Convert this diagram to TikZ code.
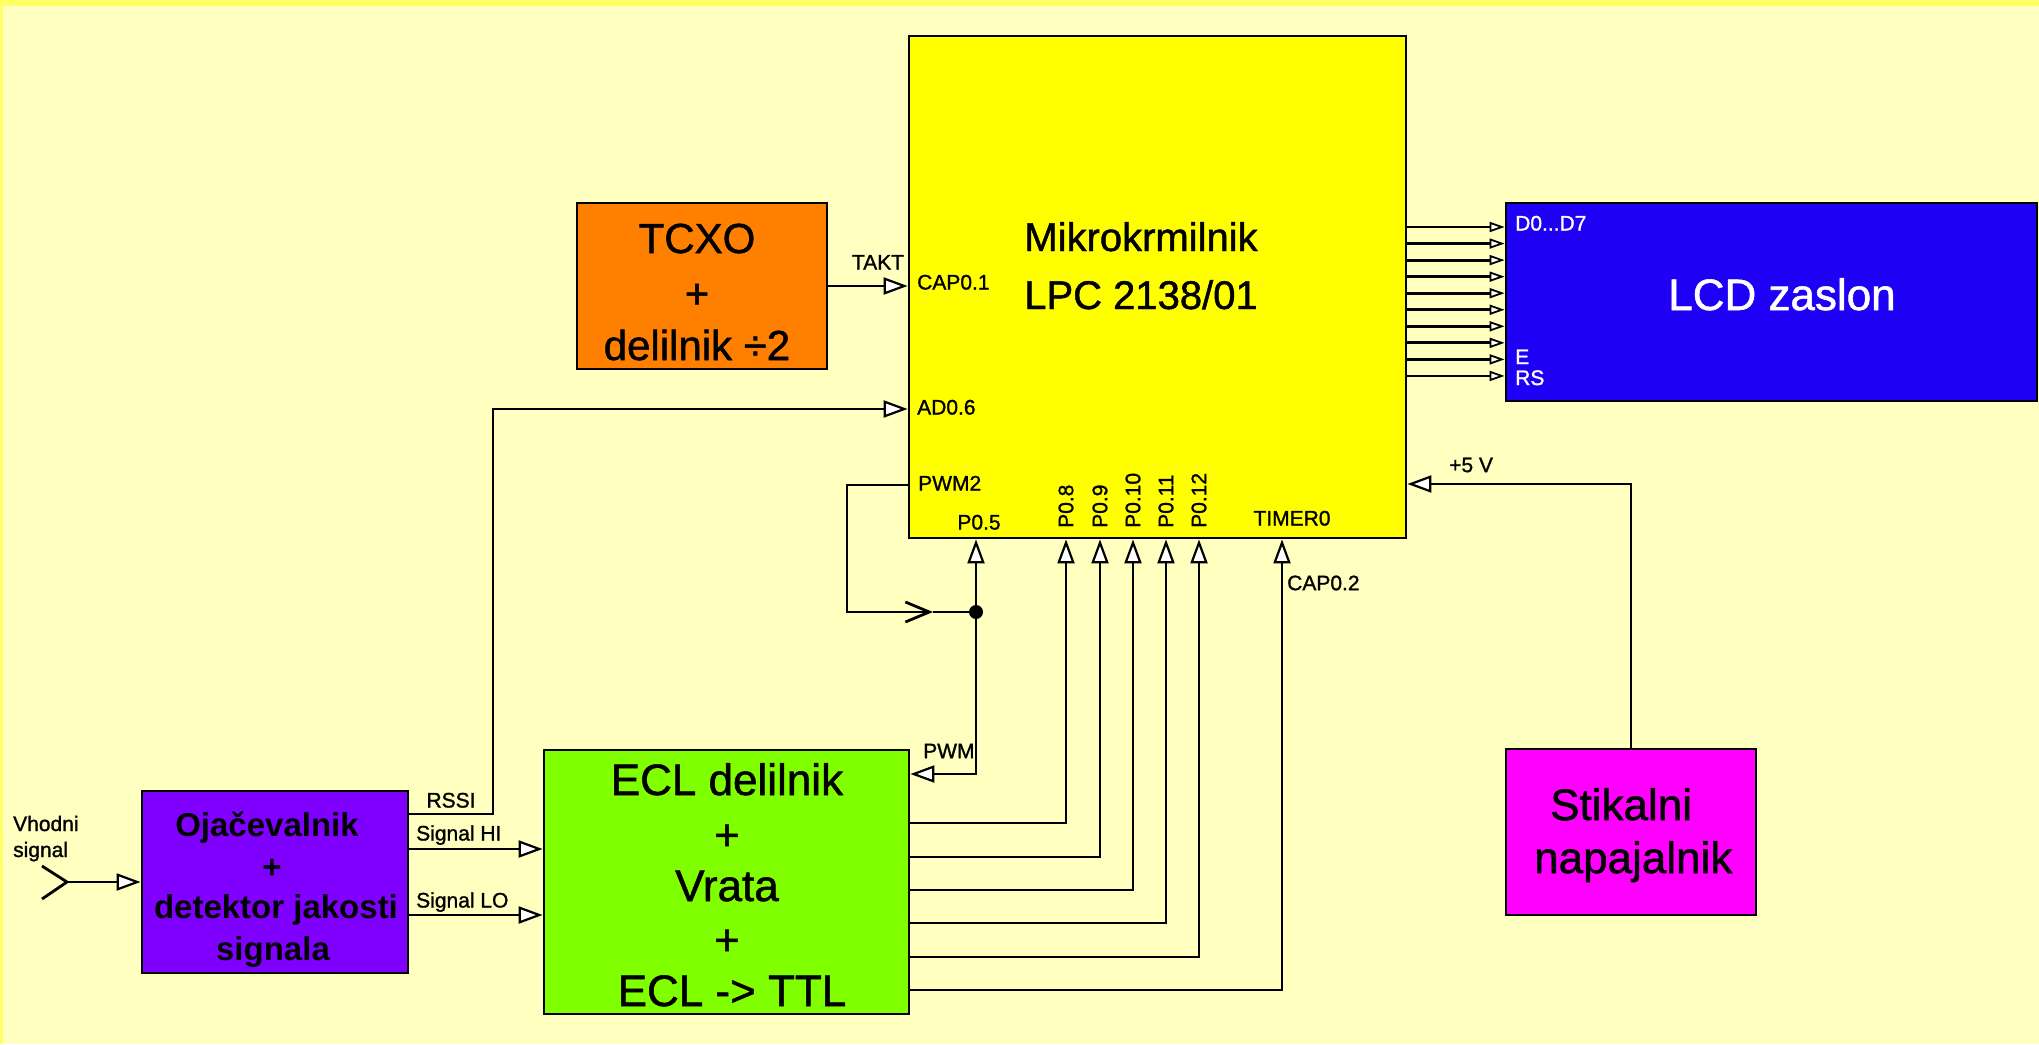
\documentclass[tikz,border=0pt]{standalone}
\usepackage{fontspec}
\setmainfont{Liberation Sans}
\newfontfamily\heavyfont{Liberation Sans}[FakeBold=1.2]
\usetikzlibrary{arrows.meta}
\definecolor{bg}{HTML}{FFFFC0}
\definecolor{bgedge}{HTML}{FFFF66}
\definecolor{mcuc}{HTML}{FFFF00}
\definecolor{tcxoc}{HTML}{FF8000}
\definecolor{lcdc}{HTML}{1E00F5}
\definecolor{ojac}{HTML}{8000FF}
\definecolor{eclc}{HTML}{80FF00}
\definecolor{psuc}{HTML}{FF00FF}
\begin{document}
\begin{tikzpicture}[x=1pt,y=-1pt,
  blk/.style={draw=black, line width=2.8pt, rectangle, inner sep=0pt},
  wire/.style={line width=2.8pt},
  arr/.style={wire, -{Triangle[length=24pt,width=17pt,fill=white,line width=2.2pt]}},
  sarr/.style={wire, -{Triangle[length=15pt,width=10pt,fill=white,line width=1.8pt]}},
  barb/.style={wire, -{Straight Barb[length=24pt,width=20pt,line width=2.8pt]}},
  lbl/.style={font=\heavyfont\fontsize{21}{21}\selectfont, inner sep=0pt},
  big/.style={font=\heavyfont\fontsize{42}{42}\selectfont, inner sep=0pt, anchor=base},
  mcutxt/.style={font=\heavyfont\fontsize{40}{40}\selectfont, inner sep=0pt, anchor=base},
  ecltxt/.style={font=\heavyfont\fontsize{44}{44}\selectfont, inner sep=0pt, anchor=base},
  ojatxt/.style={font=\fontsize{33}{33}\selectfont\bfseries, inner sep=0pt, anchor=base},
]
\useasboundingbox (0,0) rectangle (2039,1044);
\fill[bg] (0,0) rectangle (2039,1044);
\fill[bgedge] (0,0) rectangle (2039,6);
\fill[bgedge] (0,0) rectangle (3,1044);

% blocks
\node[blk, fill=mcuc, minimum width=497pt, minimum height=502pt] (mcu) at (1157.5,287) {};
\node[blk, fill=tcxoc, minimum width=250pt, minimum height=166pt] (tcxo) at (702,286) {};
\node[blk, fill=lcdc, minimum width=531pt, minimum height=198pt] (lcd) at (1771.5,302) {};
\node[blk, fill=ojac, minimum width=266pt, minimum height=182pt] (oja) at (275,882) {};
\node[blk, fill=eclc, minimum width=365pt, minimum height=264pt] (ecl) at (726.5,882) {};
\node[blk, fill=psuc, minimum width=250pt, minimum height=166pt] (psu) at (1631,832) {};

% block texts
\node[mcutxt] (mt1) at (1141,251) {Mikrokrmilnik};
\node[mcutxt] (mt2) at (1141,309) {LPC 2138/01};
\node[big] (tt1) at (697,253) {TCXO};
\node[big] (tt2) at (697,308) {+};
\node[big] (tt3) at (697,360) {delilnik ÷2};
\node[ecltxt, text=white] (lt1) at (1782,310) {LCD zaslon};
\node[ecltxt] (et1) at (727,795) {ECL delilnik};
\node[ecltxt] (et2) at (727,850) {+};
\node[ecltxt] (et3) at (727,901) {Vrata};
\node[ecltxt] (et4) at (727,955) {+};
\node[ecltxt] (et5) at (732,1006) {ECL -> TTL};
\node[ecltxt, anchor=base west] (pt1) at (1550,820) {Stikalni};
\node[ecltxt, anchor=base west] (pt2) at (1534,873) {napajalnik};
\node[ojatxt] (ot1) at (267,836) {Ojačevalnik};
\node[ojatxt] (ot2) at (272,878) {+};
\node[ojatxt] (ot3) at (276,918) {detektor jakosti};
\node[ojatxt] (ot4) at (273,960) {signala};

% pin coordinates
\coordinate (pcap01) at (mcu.west |- tcxo.east);
\coordinate (pad06) at (mcu.west |- 0,409);
\coordinate (pwm2) at (mcu.west |- 0,485);
\coordinate (rssi) at (oja.east |- 0,814);
\coordinate (rssiA) at (493,814);
\coordinate (rssiB) at (493,409);
\coordinate (ant) at (67,882);
\coordinate (antA) at (42,866);
\coordinate (antB) at (42,899);
\coordinate (pwmA) at (847,485);
\coordinate (pwmB) at (847,612);
\coordinate (barbtip) at (933,612);
\coordinate (jn) at (976,612);
\coordinate (jnB) at (976,774);
\coordinate (p05) at (mcu.south -| jn);
\coordinate (pwmin) at (ecl.east |- jnB);
\coordinate (pwr) at (psu.north |- 0,484);
\coordinate (p5v) at (mcu.east |- pwr);

% connectors
\draw[arr] (tcxo.east) -- (pcap01);
\draw[arr] (rssi) -- (rssiA) -- (rssiB) -- (pad06);
\draw[wire] (antA) -- (ant) -- (antB);
\draw[arr] (ant) -- (oja.west);
\draw[arr] (oja.east |- 0,849) -- (ecl.west |- 0,849);
\draw[arr] (oja.east |- 0,915) -- (ecl.west |- 0,915);
\draw[barb] (pwm2) -- (pwmA) -- (pwmB) -- (barbtip);
\draw[wire] (barbtip) -- (jn);
\fill (jn) circle (7pt);
\draw[arr] (jn) -- (p05);
\draw[arr] (jn) -- (jnB) -- (pwmin);
\foreach \yy/\xx in {823/1066,857/1100,890/1133,923/1166,957/1199,990/1282}{
  \draw[arr] (ecl.east |- 0,\yy) -- (\xx,\yy) -- (mcu.south -| \xx,0);
}
\foreach \k in {0,...,9}{
  \pgfmathsetmacro{\yy}{227+16.55*\k}
  \draw[sarr] (mcu.east |- 0,\yy) -- (lcd.west |- 0,\yy);
}
\draw[arr] (psu.north) -- (pwr) -- (p5v);

% labels
\node[lbl, anchor=base] (ltakt) at (878,269.5) {TAKT};
\node[lbl, anchor=base west] (lcap01) at (917,289.5) {CAP0.1};
\node[lbl, anchor=base west] (lad06) at (917,414.5) {AD0.6};
\node[lbl, anchor=base west] (lpwm2) at (918,490.5) {PWM2};
\node[lbl, anchor=base] (lp05) at (979,529.5) {P0.5};
\node[lbl, anchor=base] (ltim) at (1292,525.5) {TIMER0};
\node[lbl, rotate=90, anchor=west] (lp08) at (1066,528) {P0.8};
\node[lbl, rotate=90, anchor=west] (lp09) at (1100,528) {P0.9};
\node[lbl, rotate=90, anchor=west] (lp10) at (1133,528) {P0.10};
\node[lbl, rotate=90, anchor=west] (lp11) at (1166,528) {P0.11};
\node[lbl, rotate=90, anchor=west] (lp12) at (1199,528) {P0.12};
\node[lbl, anchor=west] (lcap02) at (1287,583) {CAP0.2};
\node[lbl, anchor=west] (l5v) at (1449,465) {+5 V};
\node[lbl, anchor=base] (lrssi) at (451,807.5) {RSSI};
\node[lbl, anchor=base west] (lhi) at (416,840.5) {Signal HI};
\node[lbl, anchor=base west] (llo) at (416,907.5) {Signal LO};
\node[lbl, anchor=west] (lpwm) at (923,751) {PWM};
\node[lbl, anchor=base west] (lvh1) at (13,831) {Vhodni};
\node[lbl, anchor=base west] (lvh2) at (13,857) {signal};
\node[lbl, anchor=base west, text=white] (ld07) at (1515,230.5) {D0...D7};
\node[lbl, anchor=base west, text=white] (le) at (1515,364) {E};
\node[lbl, anchor=base west, text=white] (lrs) at (1515,385) {RS};
\end{tikzpicture}
\end{document}
